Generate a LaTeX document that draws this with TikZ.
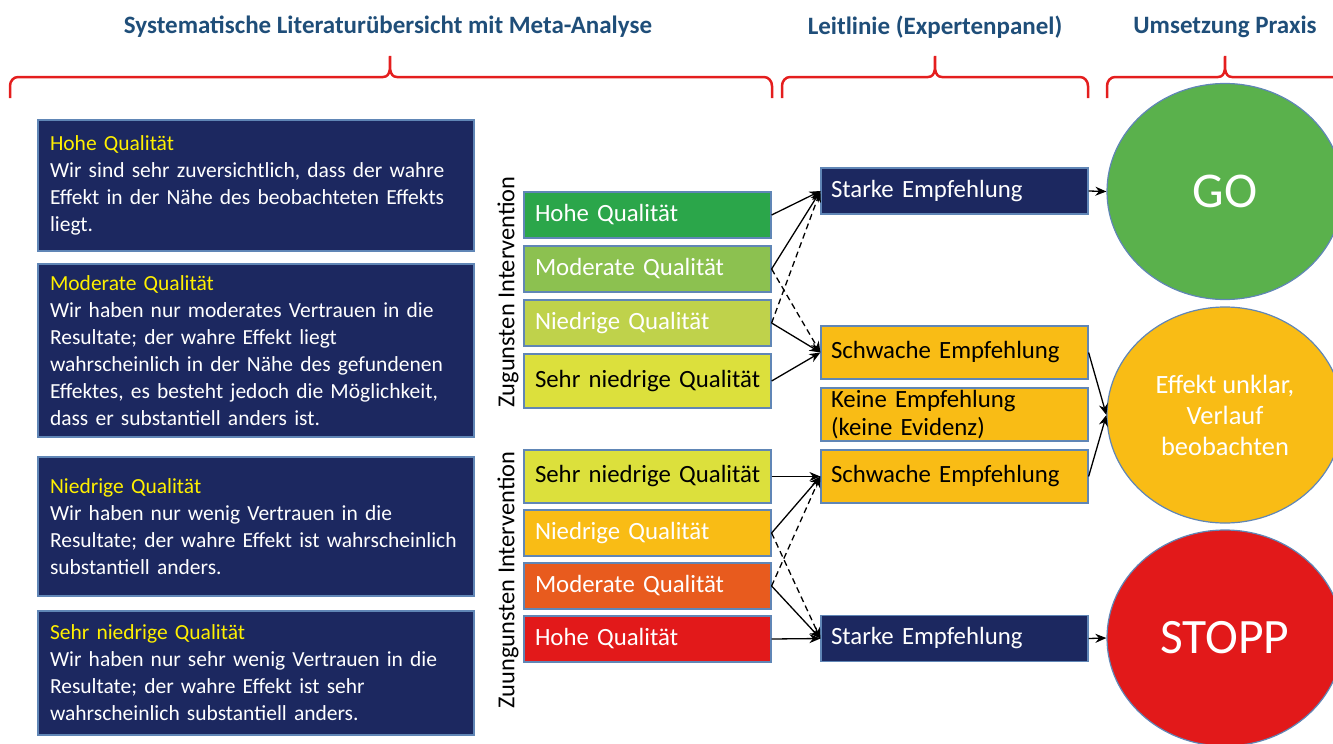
\documentclass[tikz,border=0pt]{standalone}
\usepackage{fontspec}
\setmainfont{Carlito}
\usepackage{tikz}
\usetikzlibrary{arrows.meta,shapes.geometric,positioning}
\usepackage{xcolor}
\definecolor{gdnavy}{RGB}{28,40,96}
\definecolor{gdborder}{RGB}{96,134,182}
\definecolor{gdheading}{RGB}{31,78,121}
\definecolor{gdbrace}{RGB}{228,30,30}
\definecolor{gdyellow}{RGB}{255,240,0}
\definecolor{gdgreen}{RGB}{43,166,74}
\definecolor{gdmoderate}{RGB}{140,193,80}
\definecolor{gdlow}{RGB}{191,210,75}
\definecolor{gdverylow}{RGB}{220,224,60}
\definecolor{gdamber}{RGB}{249,188,21}
\definecolor{gdorange}{RGB}{232,91,30}
\definecolor{gdred}{RGB}{226,25,26}
\definecolor{gdgo}{RGB}{90,177,76}
\tikzstyle{arrow} = [line width=1.3pt,->,>={Stealth[length=11pt,width=9pt]},color=black]

\begin{document}
\begin{tikzpicture}[x=1pt, y=-1pt,
    descbox/.style={rectangle, draw=gdborder, line width=1.2pt, fill=gdnavy, text=white, text width=412pt, inner xsep=12pt, align=left, font=\fontsize{21.5}{27}\selectfont},
    qualbox/.style={rectangle, draw=gdborder, line width=1.2pt, text=white, text width=225pt, inner xsep=11pt, minimum height=46pt, align=left, font=\fontsize{24.8}{28}\selectfont},
    recbox/.style={rectangle, draw=gdborder, line width=1.2pt, fill=gdamber, text=black, text width=247pt, inner xsep=10pt, minimum height=53pt, align=left, font=\fontsize{24.8}{28}\selectfont},
    outcome/.style={ellipse, draw=gdborder, line width=1.2pt, minimum width=236pt, minimum height=216pt, inner sep=0pt, text=white, align=center},
    heading/.style={text=gdheading, font=\fontsize{25}{28}\selectfont\bfseries},
    brace/.style={gdbrace, line width=2.5pt},
    sidelabel/.style={rotate=90, font=\fontsize{24.4}{28}\selectfont}]
\useasboundingbox (0,0) rectangle (1333,744);

% Headings and braces
\node[heading] (hsys) at (388,27) {Systematische Literaturübersicht mit Meta-Analyse};
\node[heading] (hleit) at (935,27) {Leitlinie (Expertenpanel)};
\node[heading] (hpraxis) at (1225,27) {Umsetzung Praxis};

\draw[brace] (10,98) -- (10,86) to[out=90,in=180] (18,77) -- (383,77) to[out=0,in=-90] (390,56) to[out=-90,in=180] (397,77) -- (764,77) to[out=0,in=90] (772,86) -- (772,98);
\draw[brace] (782,98) -- (782,86) to[out=90,in=180] (790,77) -- (928,77) to[out=0,in=-90] (935,56) to[out=-90,in=180] (942,77) -- (1080,77) to[out=0,in=90] (1088,86) -- (1088,98);
\draw[brace] (1107,98) -- (1107,86) to[out=90,in=180] (1115,77) -- (1218,77) to[out=0,in=-90] (1225,56) to[out=-90,in=180] (1232,77) -- (1345,77);

% Quality descriptions
\node[descbox, minimum height=131pt] (dhoch) at (256,185.5) {\textcolor{gdyellow}{Hohe Qualität}\\Wir sind sehr zuversichtlich, dass der wahre\\Effekt in der Nähe des beobachteten Effekts\\liegt.};
\node[descbox, minimum height=173pt] (dmod) at (256,350.5) {\textcolor{gdyellow}{Moderate Qualität}\\Wir haben nur moderates Vertrauen in die\\Resultate; der wahre Effekt liegt\\wahrscheinlich in der Nähe des gefundenen\\Effektes, es besteht jedoch die Möglichkeit,\\dass er substantiell anders ist.};
\node[descbox, minimum height=139pt] (dnied) at (256,526.5) {\textcolor{gdyellow}{Niedrige Qualität}\\Wir haben nur wenig Vertrauen in die\\Resultate; der wahre Effekt ist wahrscheinlich\\substantiell anders.};
\node[descbox, minimum height=124pt] (dsehr) at (256,673) {\textcolor{gdyellow}{Sehr niedrige Qualität}\\Wir haben nur sehr wenig Vertrauen in die\\Resultate; der wahre Effekt ist sehr\\wahrscheinlich substantiell anders.};

% Side labels
\node[sidelabel] (lpro) at (508,292) {Zugunsten Intervention};
\node[sidelabel] (lcontra) at (508,580) {Zuungunsten Intervention};

% Evidence in favour
\node[qualbox, fill=gdgreen] (pro1) at (647.5,215) {Hohe Qualität};
\node[qualbox, fill=gdmoderate] (pro2) at (647.5,269) {Moderate Qualität};
\node[qualbox, fill=gdlow] (pro3) at (647.5,323) {Niedrige Qualität};
\node[qualbox, fill=gdverylow, text=black, minimum height=54pt] (pro4) at (647.5,381) {\mbox{Sehr niedrige Qualität}};

% Evidence against
\node[qualbox, fill=gdverylow, text=black, minimum height=53pt] (con4) at (647.5,476.5) {\mbox{Sehr niedrige Qualität}};
\node[qualbox, fill=gdamber] (con3) at (647.5,533) {Niedrige Qualität};
\node[qualbox, fill=gdorange] (con2) at (647.5,586) {Moderate Qualität};
\node[qualbox, fill=gdred] (con1) at (647.5,639) {Hohe Qualität};

% Recommendations
\node[recbox, fill=gdnavy, text=white, minimum height=46pt] (strongpro) at (954.5,191) {Starke Empfehlung};
\node[recbox] (weakpro) at (954.5,352.5) {Schwache Empfehlung};
\node[recbox, inner ysep=0pt] (none) at (954.5,414.5) {Keine Empfehlung\\(keine Evidenz)};
\node[recbox] (weakcon) at (954.5,476.5) {Schwache Empfehlung};
\node[recbox, fill=gdnavy, text=white, minimum height=46pt] (strongcon) at (954.5,638.5) {Starke Empfehlung};

% Practice
\node[outcome, fill=gdgo, font=\fontsize{50}{54}\selectfont] (go) at (1225,191.5) {GO};
\node[outcome, fill=gdamber, font=\fontsize{26.4}{31}\selectfont] (watch) at (1225,415) {Effekt unklar,\\Verlauf\\beobachten};
\node[outcome, fill=gdred, font=\fontsize{49.5}{54}\selectfont] (stop) at (1225,638) {STOPP};

% Connections
\draw[arrow] (pro1.east) -- (strongpro.west);
\draw[arrow] (pro2.east) -- (strongpro.west);
\draw[arrow, dash pattern=on 6pt off 4pt] (pro2.east) -- (weakpro.west);
\draw[arrow, dash pattern=on 6pt off 4pt] (pro3.east) -- (strongpro.west);
\draw[arrow] (pro3.east) -- (weakpro.west);
\draw[arrow] (pro4.east) -- (weakpro.west);

\draw[arrow] (con4.east) -- (weakcon.west);
\draw[arrow] (con3.east) -- (weakcon.west);
\draw[arrow, dash pattern=on 6pt off 4pt] (con3.east) -- (strongcon.west);
\draw[arrow, dash pattern=on 6pt off 4pt] (con2.east) -- (weakcon.west);
\draw[arrow] (con2.east) -- (strongcon.west);
\draw[arrow] (con1.east) -- (strongcon.west);

\draw[arrow] (strongpro.east) -- (go.west);
\draw[arrow] (weakpro.east) -- (watch.west);
\draw[arrow] (weakcon.east) -- (watch.west);
\draw[arrow] (strongcon.east) -- (stop.west);
\end{tikzpicture}
\end{document}
